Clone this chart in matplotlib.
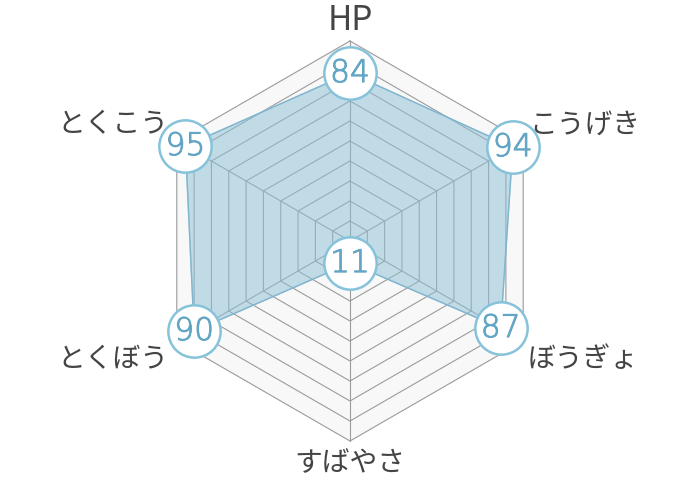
import numpy as np
import matplotlib.pyplot as plt
import matplotlib.patheffects as pe

plt.rcParams['font.family'] = ['Noto Sans CJK JP', 'DejaVu Sans']

# stats (clockwise from top)
labels = ['HP', 'こうげき', 'ぼうぎょ', 'すばやさ', 'とくぼう', 'とくこう']
values = [84, 94, 87, 11, 90, 95]
max_value = 100
grid_levels = [10, 20, 30, 40, 50, 60, 70, 80, 90, 100]

n = len(labels)
angles = np.arange(n) * 2 * np.pi / n  # 0 = top, clockwise


def to_xy(r, a):
    return r * np.sin(a), r * np.cos(a)


fig = plt.figure(figsize=(7, 4.8), dpi=100)
ax = fig.add_axes([0, 0, 1, 1])
ax.set_xlim(-175, 175)
ax.set_ylim(-119.5, 120.5)
ax.set_aspect('equal')
ax.axis('off')

# background hexagon
bx, by = to_xy(max_value, angles)
ax.fill(bx, by, color='#f8f8f8', zorder=0)

# grid rings
for lvl in grid_levels:
    gx, gy = to_xy(lvl, np.append(angles, angles[0]))
    ax.plot(gx, gy, color='#9c9c9c', lw=0.8, zorder=1)

# spokes
for a in angles:
    sx, sy = to_xy(np.array([0, max_value]), a)
    ax.plot(sx, sy, color='#9c9c9c', lw=0.8, zorder=1)

# data polygon
vals = np.array(values, dtype=float)
px, py = to_xy(vals, angles)
ax.fill(px, py, color='#8bbfd6', alpha=0.5, zorder=2)
ax.plot(np.append(px, px[0]), np.append(py, py[0]), color='#7fb5cf', lw=1, zorder=3)

# value badges
ax.scatter(px, py, s=1420, facecolor='white', edgecolor='#86c3da', linewidth=1.8, zorder=4)
num_color = '#62a5c4'
for x, y, v in zip(px, py, values):
    ax.text(x, y - 0.3, str(v), ha='center', va='center', fontsize=22.5,
            color=num_color, family=['DejaVu Sans'], fontweight='light', zorder=5,
            path_effects=[pe.withStroke(linewidth=0.7, foreground=num_color)])

# axis labels
label_style = [
    ('center', 'bottom', (0, 2)),
    ('left', 'bottom', (4, 1)),
    ('left', 'top', (3, -2)),
    ('center', 'top', (0, -5)),
    ('right', 'top', (-6, -2)),
    ('right', 'bottom', (-6, 1)),
]
for lab, a, (ha, va, off) in zip(labels, angles, label_style):
    lx, ly = to_xy(max_value, a)
    ax.annotate(lab, (lx, ly), xytext=off, textcoords='offset points',
                ha=ha, va=va, fontsize=24 if lab == 'HP' else 20,
                color='#444444')

fig.savefig('out.png', dpi=100)
